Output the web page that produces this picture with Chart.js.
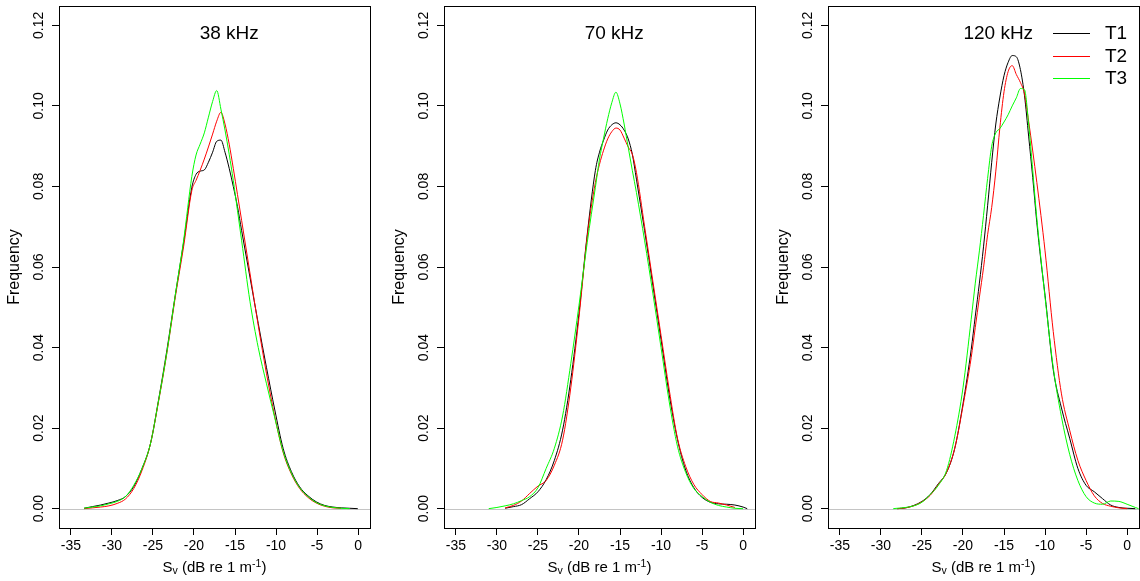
<!DOCTYPE html>
<html>
<head>
<meta charset="utf-8">
<title>Sv density, T1-T3</title>
<script src="https://cdn.jsdelivr.net/npm/chart.js@4.4.1/dist/chart.umd.min.js"></script>
<style>
    html, body { margin: 0; padding: 0; background: #fff; }
    #wrap { position: relative; width: 1140px; height: 581px; overflow: hidden; }
    #wrap canvas { position: absolute; top: 0; }
</style>
</head>
<body>
<div id="wrap">
    <canvas id="c38" width="380" height="581" style="left:0px"></canvas>
    <canvas id="c70" width="380" height="581" style="left:380px"></canvas>
    <canvas id="c120" width="380" height="581" style="left:760px"></canvas>
</div>
<script>
/* Data (x = Sv in dB, y = frequency) */

const SERIES_NAMES = ['T1', 'T2', 'T3'];
const PANEL_TITLES = ['38 kHz', '70 kHz', '120 kHz'];
const X_TICKS = [-35, -30, -25, -20, -15, -10, -5, 0];
const Y_TICKS = [0, 0.02, 0.04, 0.06, 0.08, 0.10, 0.12];

// 38 kHz
const X_38 = [-33.40, -32.39, -31.38, -30.37, -29.36, -28.35, -27.34, -26.33, -25.32, -24.30,
    -23.29, -22.28, -21.27, -20.26, -19.75, -19.25, -18.74, -18.24, -17.73, -17.23,
    -16.72, -16.22, -15.71, -15.21, -14.70, -14.19, -13.18, -12.17, -11.16, -10.15,
    -9.14, -8.13, -7.12, -6.11, -5.10, -4.08, -3.07, -2.06, -1.05, -0.04];
const T1_38 = [0.0001, 0.0005, 0.0009, 0.0014, 0.0020, 0.0030, 0.0055, 0.0100, 0.0160, 0.0272,
    0.0395, 0.0530, 0.0660, 0.0798, 0.0830, 0.0838, 0.0841, 0.0860, 0.0885, 0.0912,
    0.0915, 0.0885, 0.0845, 0.0800, 0.0750, 0.0690, 0.0575, 0.0460, 0.0350, 0.0245,
    0.0150, 0.0092, 0.0054, 0.0032, 0.0017, 0.0008, 0.0004, 0.0002, 0.0001, 0.0000];
const T2_38 = [0.0000, 0.0002, 0.0004, 0.0007, 0.0013, 0.0024, 0.0050, 0.0095, 0.0160, 0.0268,
    0.0388, 0.0525, 0.0650, 0.0790, 0.0815, 0.0840, 0.0868, 0.0898, 0.0930, 0.0962,
    0.0984, 0.0955, 0.0905, 0.0845, 0.0780, 0.0715, 0.0585, 0.0455, 0.0335, 0.0228,
    0.0140, 0.0086, 0.0050, 0.0028, 0.0014, 0.0006, 0.0002, 0.0001, null, null];
const T3_38 = [0.0001, 0.0004, 0.0007, 0.0012, 0.0018, 0.0030, 0.0058, 0.0100, 0.0160, 0.0270,
    0.0390, 0.0530, 0.0665, 0.0825, 0.0878, 0.0905, 0.0933, 0.0972, 0.1011, 0.1038,
    0.0992, 0.0940, 0.0880, 0.0815, 0.0740, 0.0665, 0.0515, 0.0400, 0.0310, 0.0225,
    0.0142, 0.0088, 0.0052, 0.0030, 0.0015, 0.0007, 0.0003, 0.0001, 0.0000, null];

// 70 kHz
const X_70 = [-31, -30, -29, -28, -27, -26, -25, -24, -23, -22,
    -21, -20, -19, -18, -17.5, -17, -16.5, -16, -15.5, -15,
    -14.5, -14, -13.5, -13, -12, -11, -10, -9, -8, -7,
    -6, -5, -4, -3, -2, -1, 0, 0.5];
const T1_70 = [null, null, 0.0001, 0.0005, 0.0010, 0.0025, 0.0042, 0.0072, 0.0120, 0.0195,
    0.0320, 0.0485, 0.0680, 0.0840, 0.0885, 0.0915, 0.0940, 0.0953, 0.0958, 0.0953,
    0.0940, 0.0918, 0.0880, 0.0818, 0.0690, 0.0555, 0.0420, 0.0283, 0.0172, 0.0096,
    0.0052, 0.0028, 0.0016, 0.0012, 0.0011, 0.0009, 0.0004, 0.0000];
const T2_70 = [null, null, 0.0002, 0.0008, 0.0019, 0.0038, 0.0056, 0.0070, 0.0108, 0.0170,
    0.0300, 0.0475, 0.0675, 0.0810, 0.0855, 0.0890, 0.0918, 0.0936, 0.0945, 0.0940,
    0.0920, 0.0898, 0.0880, 0.0835, 0.0700, 0.0565, 0.0430, 0.0295, 0.0175, 0.0105,
    0.0060, 0.0035, 0.0018, 0.0014, 0.0009, 0.0003, null, null];
const T3_70 = [0.0000, 0.0003, 0.0007, 0.0012, 0.0020, 0.0030, 0.0052, 0.0100, 0.0150, 0.0230,
    0.0360, 0.0505, 0.0660, 0.0798, 0.0868, 0.0920, 0.0968, 0.1008, 0.1034, 0.1005,
    0.0955, 0.0897, 0.0840, 0.0785, 0.0665, 0.0535, 0.0400, 0.0265, 0.0155, 0.0090,
    0.0050, 0.0030, 0.0016, 0.0008, 0.0004, 0.0001, 0.0000, null];

// 120 kHz
const X_120 = [-28.5, -28, -27, -26, -25, -24, -23, -22, -21, -20,
    -19, -18.5, -18, -17.5, -17, -16.5, -16, -15.5, -15, -14.5,
    -14, -13.5, -13, -12.5, -12, -11.5, -11, -10.5, -10, -9,
    -8, -7, -6, -5, -4, -3, -2, -1, 0, 1, 1.4];
const T1_120 = [null, 0.0000, 0.0002, 0.0008, 0.0018, 0.0035, 0.0062, 0.0090, 0.0150, 0.0260,
    0.0395, 0.0478, 0.0560, 0.0650, 0.0752, 0.0860, 0.0955, 0.1022, 0.1075, 0.1108,
    0.1125, 0.1122, 0.1090, 0.1025, 0.0925, 0.0822, 0.0710, 0.0615, 0.0530, 0.0345,
    0.0250, 0.0175, 0.0100, 0.0058, 0.0042, 0.0025, 0.0009, 0.0003, 0.0001, 0.0000, null];
const T2_120 = [null, 0.0000, 0.0002, 0.0007, 0.0017, 0.0033, 0.0060, 0.0090, 0.0150, 0.0255,
    0.0375, 0.0450, 0.0525, 0.0598, 0.0680, 0.0748, 0.0838, 0.0947, 0.1035, 0.1085,
    0.1100, 0.1078, 0.1058, 0.1030, 0.0962, 0.0888, 0.0810, 0.0728, 0.0640, 0.0440,
    0.0285, 0.0195, 0.0120, 0.0070, 0.0032, 0.0013, 0.0006, 0.0002, 0.0000, null, null];
const T3_120 = [0.0000, 0.0001, 0.0003, 0.0007, 0.0016, 0.0035, 0.0058, 0.0095, 0.0180, 0.0300,
    0.0470, 0.0560, 0.0640, 0.0728, 0.0820, 0.0900, 0.0933, 0.0944, 0.0960, 0.0978,
    0.1000, 0.1020, 0.1043, 0.1040, 0.0955, 0.0840, 0.0720, 0.0620, 0.0525, 0.0350,
    0.0228, 0.0135, 0.0070, 0.0030, 0.0014, 0.0011, 0.0019, 0.0018, 0.0011, 0.0003, 0.0000];

const COLORS = ['#000000', '#ff0000', '#00ff00'];
const FONT = "'Liberation Sans', Arial, sans-serif";

// where the panel label sits, in data units
const LABEL_X = -15.7;
const LABEL_Y = 0.118;

Chart.defaults.font.family = FONT;
Chart.defaults.color = '#000';

// box, grey zero line, panel label, legend and the x axis title with sub/superscript
const decorations = {
    id: 'decorations',
    beforeDatasetsDraw(chart) {
        const {ctx, chartArea: a, scales: {y}} = chart;
        const y0 = Math.round(y.getPixelForValue(0)) + 0.5;
        ctx.save();
        ctx.strokeStyle = '#c4c4c4';
        ctx.lineWidth = 1;
        ctx.beginPath();
        ctx.moveTo(a.left, y0);
        ctx.lineTo(a.right, y0);
        ctx.stroke();
        ctx.restore();
    },
    afterDatasetsDraw(chart, args, opts) {
        const {ctx, chartArea: a, scales: {x, y}} = chart;
        ctx.save();
        ctx.strokeStyle = '#000';
        ctx.lineWidth = 1;
        ctx.strokeRect(Math.round(a.left) + 0.5, Math.round(a.top) + 0.5,
            Math.round(a.width), Math.round(a.height));

        ctx.fillStyle = '#000';
        ctx.font = `19px ${FONT}`;
        ctx.textAlign = 'center';
        ctx.textBaseline = 'middle';
        ctx.fillText(opts.title, x.getPixelForValue(LABEL_X), y.getPixelForValue(LABEL_Y));

        if (opts.legend) {
            ctx.textAlign = 'left';
            SERIES_NAMES.forEach((name, i) => {
                const ly = Math.round(a.top + 26.7 + i * 22.8) + 0.5;
                ctx.strokeStyle = COLORS[i];
                ctx.beginPath();
                ctx.moveTo(a.right - 86, ly);
                ctx.lineTo(a.right - 49, ly);
                ctx.stroke();
                ctx.fillText(name, a.right - 34, ly);
            });
        }

        // S_v (dB re 1 m^-1)
        const parts = [
            ['S', 15, 0], ['v', 10.5, 2], [' (dB re 1 m', 15, 0], ['-1', 10.5, -5], [')', 15, 0]
        ];
        ctx.textAlign = 'left';
        ctx.textBaseline = 'alphabetic';
        let total = 0;
        parts.forEach(([t, s]) => {
            ctx.font = `${s}px ${FONT}`;
            total += ctx.measureText(t).width;
        });
        let cx = (a.left + a.right) / 2 - total / 2;
        const base = 572;
        parts.forEach(([t, s, dy]) => {
            ctx.font = `${s}px ${FONT}`;
            ctx.fillText(t, cx, base + dy);
            cx += ctx.measureText(t).width;
        });
        ctx.restore();
    }
};

function toPoints(xs, ys) {
    const pts = [];
    xs.forEach((x, i) => {
        if (ys[i] !== null) pts.push({x: x, y: ys[i]});
    });
    return pts;
}

function drawPanel(canvasId, title, xs, series, layout) {
    const ctx = document.getElementById(canvasId).getContext('2d');
    return new Chart(ctx, {
        type: 'line',
        data: {
            datasets: series.map((ys, i) => ({
                label: SERIES_NAMES[i],
                data: toPoints(xs, ys),
                borderColor: COLORS[i],
                borderWidth: 1,
                pointRadius: 0,
                fill: false,
                cubicInterpolationMode: 'monotone',
                order: 3 - i
            }))
        },
        options: {
            responsive: false,
            animation: false,
            events: [],
            layout: {padding: {top: 6, right: layout.right, left: 0, bottom: 0}},
            plugins: {
                legend: {display: false},
                tooltip: {enabled: false},
                decorations: {title: title, legend: layout.legend}
            },
            scales: {
                x: {
                    type: 'linear',
                    min: -36.45,
                    max: 1.45,
                    afterBuildTicks: (s) => { s.ticks = X_TICKS.map(v => ({value: v})); },
                    afterFit: (s) => {
                        s.height = 53;
                        s.paddingLeft = 0; s.paddingRight = 0;
                    },
                    border: {display: false},
                    grid: {drawOnChartArea: false, drawTicks: true, tickLength: 7, color: '#000'},
                    ticks: {
                        autoSkip: false,
                        maxRotation: 0,
                        padding: 3,
                        font: {size: 14},
                        color: '#000',
                        callback: (v) => `${v}`
                    }
                },
                y: {
                    type: 'linear',
                    min: -0.0048,
                    max: 0.1248,
                    afterBuildTicks: (s) => { s.ticks = Y_TICKS.map(v => ({value: v})); },
                    afterFit: (s) => {
                        s.width = layout.left;
                        s.paddingTop = 0; s.paddingBottom = 0;
                    },
                    border: {display: false},
                    grid: {drawOnChartArea: false, drawTicks: true, tickLength: 7, color: '#000'},
                    ticks: {
                        autoSkip: false,
                        minRotation: 90,
                        maxRotation: 90,
                        crossAlign: 'center',
                        padding: -1,
                        font: {size: 14},
                        color: '#000',
                        callback: (v) => v.toFixed(2)
                    },
                    title: {
                        display: true,
                        text: 'Frequency',
                        font: {size: 16},
                        color: '#000',
                        padding: {top: layout.ylab, bottom: 0}
                    }
                }
            }
        },
        plugins: [decorations]
    });
}

setTimeout(() => {
    drawPanel('c38', PANEL_TITLES[0], X_38, [T1_38, T2_38, T3_38], {left: 59, right: 10, ylab: 5, legend: false});
    drawPanel('c70', PANEL_TITLES[1], X_70, [T1_70, T2_70, T3_70], {left: 64, right: 5, ylab: 10, legend: false});
    drawPanel('c120', PANEL_TITLES[2], X_120, [T1_120, T2_120, T3_120], {left: 68, right: 1, ylab: 14, legend: true});
}, 0);
</script>
</body>
</html>
